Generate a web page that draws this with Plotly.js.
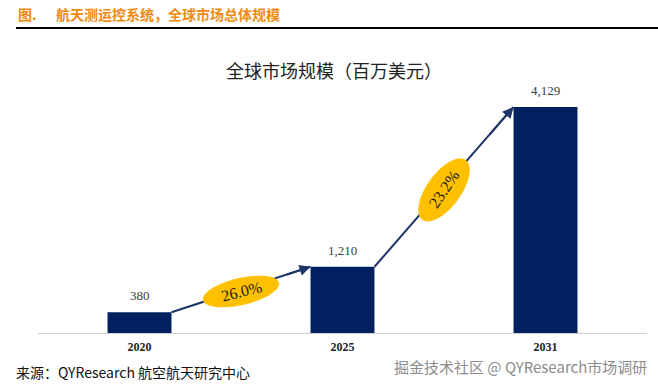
<!DOCTYPE html>
<html>
<head>
<meta charset="utf-8">
<script src="https://cdn.plot.ly/plotly-3.0.1.min.js"></script>
<style>html,body{margin:0;padding:0;background:#fff;}#chart{width:658px;height:384px;}</style>
</head>
<body>
<div id="chart"></div>
<script>
// ---- data ----
const years = ['2020', '2025', '2031'];
const marketSize = [380, 1210, 4129];
const growthLabels = ['26.0%', '23.2%'];

const chartTitle = '全球市场规模（百万美元）';
const headerPrefix = '图.';
const headerText = '航天测运控系统，全球市场总体规模';
const sourceText = '来源：QYResearch 航空航天研究中心';
const watermarkText = '掘金技术社区 @ QYResearch市场调研';

// ---- layout constants ----
const W = 658, H = 384;
const M = {l: 38, r: 11, t: 80, b: 51};
const plotW = W - M.l - M.r, plotH = H - M.t - M.b;
const px2paperX = px => (px - M.l) / plotW;
const py2paperY = py => (H - M.b - py) / plotH;

const barWidth = 0.315;
const half = barWidth / 2;
const navy = '#002060';
const arrowColor = '#1c3468';
const gold = '#FFC000';
const serif = 'Liberation Serif';

function ellipsePath(a, b, deg, dy) {
  const th = deg * Math.PI / 180;
  let d = '';
  const n = 60;
  for (let i = 0; i <= n; i++) {
    const t = 2 * Math.PI * i / n;
    const x = a * Math.cos(th) * Math.cos(t) - b * Math.sin(th) * Math.sin(t);
    const y = a * Math.sin(th) * Math.cos(t) + b * Math.cos(th) * Math.sin(t) + dy;
    d += (i === 0 ? 'M' : 'L') + x.toFixed(2) + ',' + y.toFixed(2);
  }
  return d + 'Z';
}

const ellipseSpec = [
  {a: 39, b: 13.5, deg: 13, dy: -2, textangle: -14},
  {a: 37, b: 17, deg: 54, dy: -3, textangle: -56}
];

const shapes = [];
const annotations = [];

for (let i = 0; i < years.length - 1; i++) {
  const x0 = i + half, y0 = marketSize[i];
  const x1 = i + 1 - half, y1 = marketSize[i + 1];
  const xm = (x0 + x1) / 2, ym = (y0 + y1) / 2;
  shapes.push({type: 'line', xref: 'x', yref: 'y', x0: x0, y0: y0, x1: x1, y1: y1,
    line: {color: arrowColor, width: 2}, layer: 'above'});
  const e = ellipseSpec[i];
  shapes.push({type: 'path', xref: 'x', yref: 'y', xsizemode: 'pixel', ysizemode: 'pixel',
    xanchor: xm, yanchor: ym, path: ellipsePath(e.a, e.b, e.deg, e.dy),
    fillcolor: gold, line: {width: 0}, layer: 'above'});
  const f = 0.82;
  annotations.push({x: x1, y: y1, xref: 'x', yref: 'y',
    ax: x0 + (x1 - x0) * f, ay: y0 + (y1 - y0) * f, axref: 'x', ayref: 'y',
    showarrow: true, arrowhead: 2, arrowsize: 1.1, arrowwidth: 2, arrowcolor: arrowColor,
    standoff: 0, text: ''});
  annotations.push({x: xm, y: ym, xref: 'x', yref: 'y', showarrow: false,
    text: growthLabels[i], textangle: e.textangle, yshift: e.dy,
    font: {family: serif, size: 16, color: '#1a1a1a'}});
}

// value labels above bars (x given as category index)
marketSize.forEach((v, i) => {
  annotations.push({x: i, y: v, xref: 'x', yref: 'y', showarrow: false,
    yanchor: 'bottom', yshift: 7, text: v.toLocaleString('en-US'),
    font: {family: serif, size: 13, color: '#404040'}});
});

// header
annotations.push({xref: 'paper', yref: 'paper', x: px2paperX(16), y: py2paperY(14),
  xanchor: 'left', yanchor: 'middle', showarrow: false, text: '<b>' + headerPrefix + '</b>',
  font: {family: 'Noto Sans CJK SC', size: 14, color: '#EF8A12'}});
annotations.push({xref: 'paper', yref: 'paper', x: px2paperX(54), y: py2paperY(14),
  xanchor: 'left', yanchor: 'middle', showarrow: false, text: '<b>' + headerText + '</b>',
  font: {family: 'Noto Sans CJK SC', size: 14, color: '#EF8A12'}});
shapes.push({type: 'line', xref: 'paper', yref: 'paper',
  x0: px2paperX(16), x1: px2paperX(658), y0: py2paperY(28), y1: py2paperY(28),
  line: {color: '#000', width: 2}});
// source
annotations.push({xref: 'paper', yref: 'paper', x: px2paperX(14), y: py2paperY(372),
  xanchor: 'left', yanchor: 'middle', showarrow: false, text: sourceText,
  font: {family: 'Noto Sans CJK SC', size: 14, color: '#111'}});
// watermark
annotations.push({xref: 'paper', yref: 'paper', x: px2paperX(649), y: py2paperY(366),
  xanchor: 'right', yanchor: 'middle', showarrow: false, text: watermarkText,
  font: {family: 'Noto Sans CJK SC', size: 15, color: '#8c8c8c'}});

const trace = {
  type: 'bar', x: years, y: marketSize, width: barWidth,
  marker: {color: navy, line: {width: 0}},
  hoverinfo: 'skip'
};

const layout = {
  width: W, height: H,
  margin: M,
  paper_bgcolor: '#fff', plot_bgcolor: '#fff',
  showlegend: false,
  title: {text: chartTitle, x: 334 / W, xref: 'container', xanchor: 'center',
    y: 1 - 72 / H, yref: 'container', yanchor: 'middle',
    font: {family: 'Noto Sans CJK SC', size: 18, color: '#222'}},
  xaxis: {type: 'category', categoryorder: 'array', categoryarray: years,
    range: [-0.5, years.length - 0.5],
    showline: true, linecolor: '#d0d0d0', linewidth: 1,
    showgrid: false, zeroline: false, ticks: '', ticklabelstandoff: 3,
    tickfont: {family: serif, size: 12, color: '#222', weight: 'bold'}},
  yaxis: {range: [0, 4623], showgrid: false, zeroline: false, showticklabels: false,
    showline: false, ticks: ''},
  shapes: shapes,
  annotations: annotations
};

Plotly.newPlot('chart', [trace], layout, {displayModeBar: false, staticPlot: true});
</script>
</body>
</html>
